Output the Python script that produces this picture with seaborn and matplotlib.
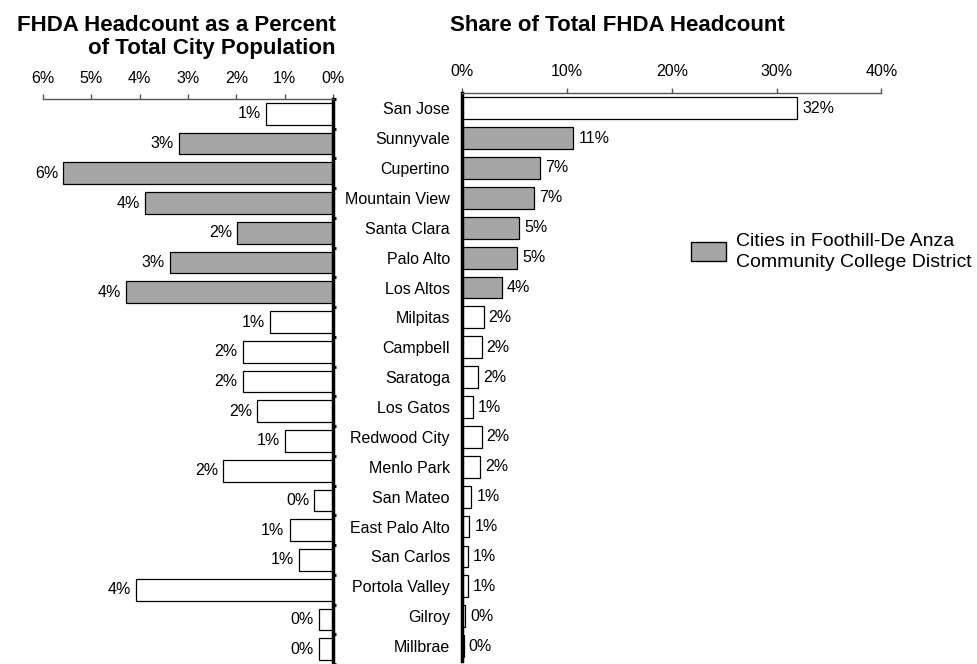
import matplotlib
matplotlib.use("Agg")
import matplotlib.pyplot as plt
from matplotlib.patches import Patch
from matplotlib.ticker import FuncFormatter, FixedLocator
import numpy as np
import pandas as pd
import seaborn as sns

cities = ["San Jose", "Sunnyvale", "Cupertino", "Mountain View", "Santa Clara",
          "Palo Alto", "Los Altos", "Milpitas", "Campbell", "Saratoga",
          "Los Gatos", "Redwood City", "Menlo Park", "San Mateo", "East Palo Alto",
          "San Carlos", "Portola Valley", "Gilroy", "Millbrae"]
in_district = [False, True, True, True, True, True, True, False, False, False,
               False, False, False, False, False, False, False, False, False]
pct_city_pop = [1.39, 3.19, 5.58, 3.89, 1.98, 3.38, 4.29, 1.31, 1.87, 1.87,
                1.57, 1.0, 2.27, 0.39, 0.90, 0.70, 4.08, 0.30, 0.30]
share_headcount = [31.98, 10.6, 7.39, 6.87, 5.41, 5.22, 3.79, 2.04, 1.85, 1.53,
                   0.99, 1.85, 1.72, 0.86, 0.67, 0.55, 0.55, 0.26, 0.13]
left_ticks = [0, 1, 2, 3, 4, 5, 6]
right_ticks = [0, 10, 20, 30, 40]

df = pd.DataFrame({
    "city": cities,
    "group": ["FHDA" if d else "Other" for d in in_district],
    "pop": pct_city_pop,
    "share": share_headcount,
})

sns.set_style("white")
plt.rcParams["font.family"] = ["Liberation Sans", "DejaVu Sans"]
for k in ["text.color", "xtick.color", "ytick.color", "axes.labelcolor"]:
    plt.rcParams[k] = "black"

GRAY = "#a6a6a6"
palette = {"FHDA": GRAY, "Other": "white"}

fig = plt.figure(figsize=(9.77, 6.64), dpi=100)
W, H = 977, 664
axL = fig.add_axes([43 / W, 0 / H, 290 / W, 565 / H])
axR = fig.add_axes([462.3 / W, 3 / H, 419 / W, 567.7 / H])

n = len(cities)
bounds = np.arange(n + 1) - 0.5

for ax, col in [(axL, "pop"), (axR, "share")]:
    sns.barplot(data=df, y="city", x=col, hue="group", palette=palette, order=cities,
                hue_order=["FHDA", "Other"], dodge=False, width=0.73,
                edgecolor="black", linewidth=0.9, legend=False, ax=ax)
    ax.set_xlabel("")
    ax.set_ylabel("")
    ax.set_ylim(n - 0.5, -0.5)
    ax.xaxis.tick_top()
    ax.xaxis.set_label_position("top")
    ax.spines["bottom"].set_visible(False)
    ax.spines["top"].set_color("#555555")
    ax.spines["top"].set_linewidth(1.0)
    ax.yaxis.set_minor_locator(FixedLocator(bounds))
    ax.xaxis.set_major_formatter(FuncFormatter(lambda v, p: f"{v:.0f}%"))

# value labels
for i, v in enumerate(pct_city_pop):
    axL.annotate(f"{v:.0f}%", xy=(v, i), xytext=(-5, 0), textcoords="offset pixels",
                 ha="right", va="center", fontsize=11.5)
for i, v in enumerate(share_headcount):
    axR.annotate(f"{v:.0f}%", xy=(v, i), xytext=(5, 0), textcoords="offset pixels",
                 ha="left", va="center", fontsize=11.5)

# Left panel
axL.set_xlim(6, 0)
axL.set_xticks(left_ticks)
axL.spines["left"].set_visible(False)
axL.spines["right"].set_visible(True)
axL.spines["right"].set_color("black")
axL.spines["right"].set_linewidth(2.5)
axL.yaxis.tick_right()
axL.set_yticks(range(n))
axL.set_yticklabels([])
axL.tick_params(axis="y", which="major", length=0)
axL.tick_params(axis="y", which="minor", length=2.5, width=2, color="black", direction="out")
axL.tick_params(axis="x", which="major", length=3.6, width=1, color="#555555",
                direction="out", pad=5.6, labelsize=11.5, top=True, bottom=False)

# Right panel
axR.set_xlim(0, 40)
axR.set_xticks(right_ticks)
axR.spines["right"].set_visible(False)
axR.spines["left"].set_color("black")
axR.spines["left"].set_linewidth(2.5)
axR.set_yticks(range(n))
axR.set_yticklabels(cities, fontsize=11.5)
axR.tick_params(axis="y", which="major", length=0, pad=9)
axR.tick_params(axis="y", which="minor", length=2.5, width=2, color="black", direction="out")
axR.tick_params(axis="x", which="major", length=3.6, width=1, color="#555555",
                direction="out", pad=6.4, labelsize=11.5, top=True, bottom=False)

# Titles
fig.text(336 / W, 1 - 37 / H, "FHDA Headcount as a Percent\nof Total City Population",
         ha="right", va="center", fontsize=16, fontweight="bold", linespacing=1.12)
fig.text(617.5 / W, 1 - 25.5 / H, "Share of Total FHDA Headcount",
         ha="center", va="center", fontsize=16, fontweight="bold")

# Legend
leg = axR.legend(handles=[Patch(facecolor=GRAY, edgecolor="black", linewidth=1)],
                 labels=["Cities in Foothill-De Anza\nCommunity College District"],
                 loc="center left", bbox_to_anchor=(690.7 / W, 1 - 252 / H),
                 bbox_transform=fig.transFigure, frameon=False, fontsize=14,
                 handlelength=1.8, handleheight=1.13, handletextpad=0.53,
                 borderpad=0, borderaxespad=0, labelspacing=0)
for t in leg.get_texts():
    t.set_linespacing(1.25)

fig.savefig("out.png", dpi=100)
